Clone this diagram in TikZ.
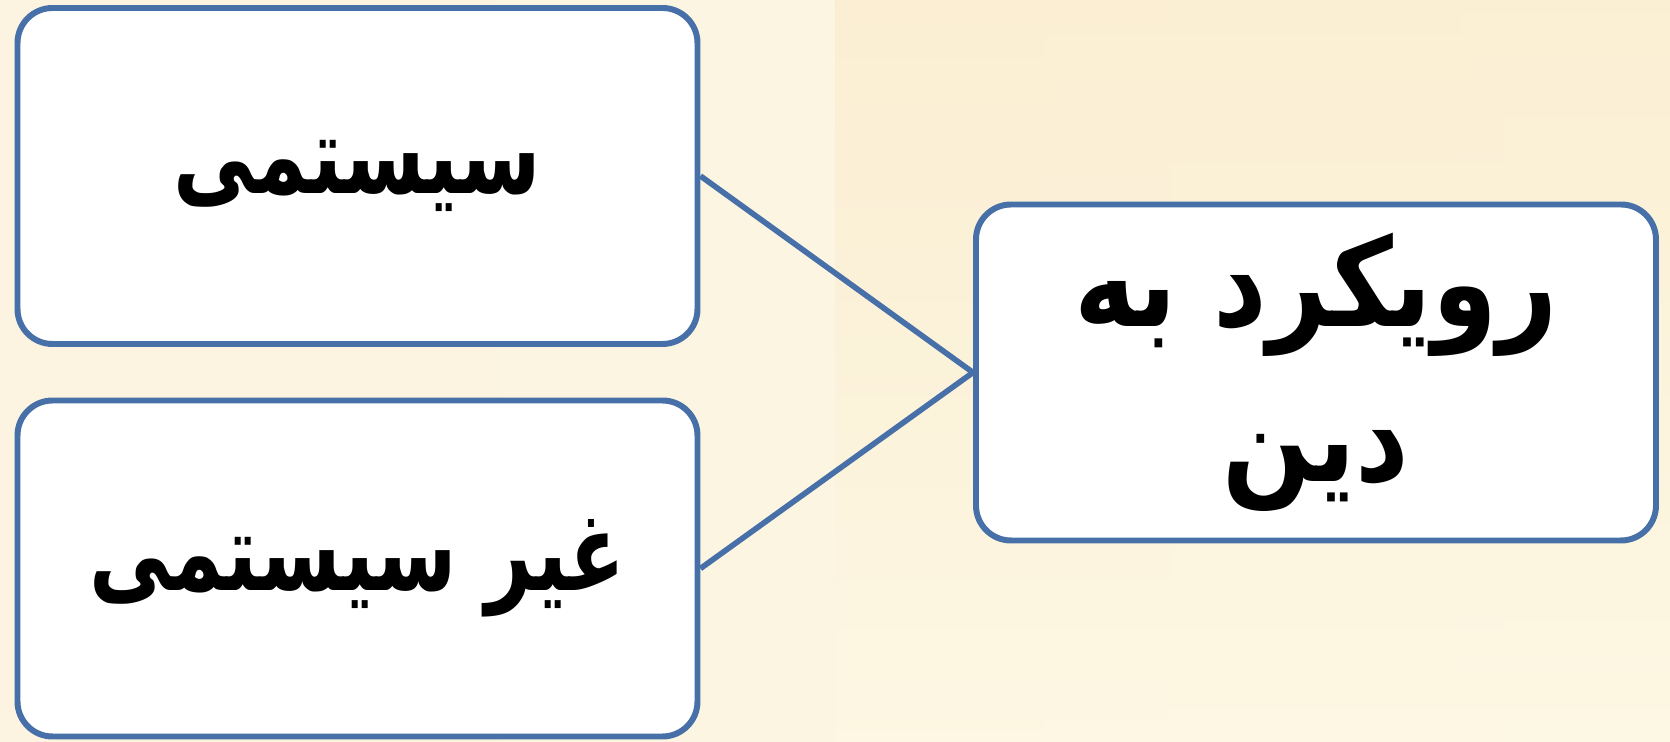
\documentclass[tikz,border=0pt]{standalone}
\usepackage{fontspec}
\newfontfamily\arabicfont[Script=Arabic, FakeStretch=0.75]{DejaVu Sans}
\newfontfamily\arabicwide[Script=Arabic, FakeStretch=0.85]{DejaVu Sans}
\TeXXeTstate=1
\usetikzlibrary{positioning}
\definecolor{boxblue}{RGB}{72,112,168}
\definecolor{creamL}{RGB}{252,243,224}
\definecolor{creamR}{RGB}{253,248,228}
\definecolor{peach}{RGB}{250,232,196}
\tikzstyle{block} = [rectangle, draw=boxblue, fill=white, line width=1.7pt, text centered, align=center, rounded corners=0.35cm, minimum height=3.36cm, minimum width=6.8cm, font=\arabicfont\bfseries\fontsize{31}{41}\selectfont]
\tikzstyle{link}  = [draw=boxblue, line width=1.6pt]

\begin{document}
\begin{tikzpicture}[node distance=2cm]
    % background
    \shade[left color=creamL, right color=creamR] (0,0) rectangle (16.70,7.42);
    \shade[top color=peach, bottom color=creamR, opacity=0.5] (8.35,0) rectangle (16.70,7.42);
    \useasboundingbox (0,0) rectangle (16.70,7.42);

    % left boxes
    \node [block] (sys) at (3.575,5.66) {\beginR سیستمی\endR};
    \node [block, below of=sys, node distance=3.925cm] (nonsys) {\beginR غیر سیستمی\endR};

    % right box
    \node [block, right of=sys, node distance=9.585cm, yshift=-1.965cm, font=\arabicwide\bfseries\fontsize{35}{44}\selectfont] (approach) {\beginR رویکرد به\endR\\ \beginR دین\endR};

    % connectors
    \draw [link] (sys.east) -- (approach.west);
    \draw [link] (nonsys.east) -- (approach.west);
\end{tikzpicture}
\end{document}
